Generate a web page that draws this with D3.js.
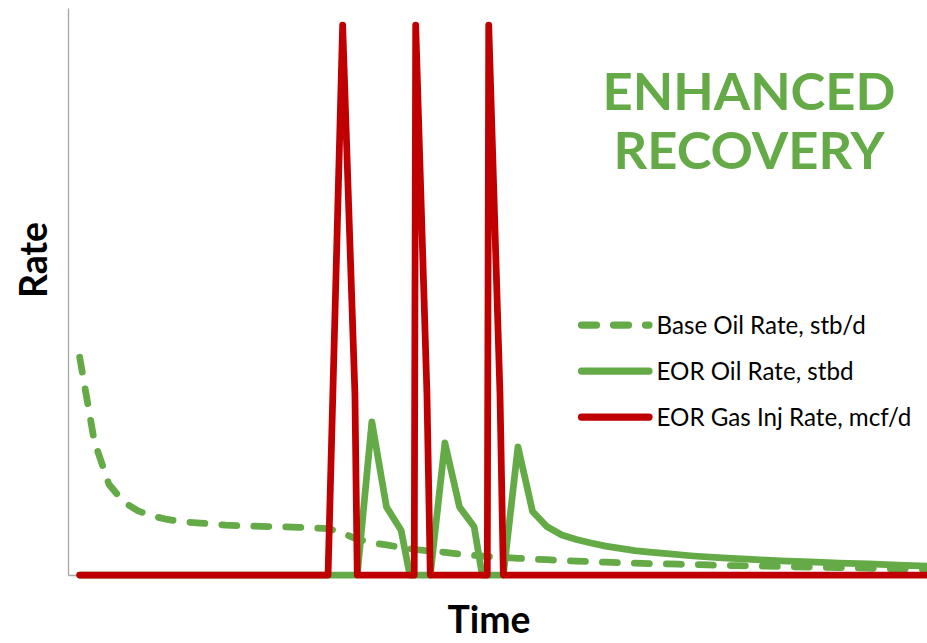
<!DOCTYPE html>
<html>
<head>
<meta charset="utf-8">
<script src="https://cdn.jsdelivr.net/npm/d3@7/dist/d3.min.js"></script>
<style>
  html, body { margin: 0; padding: 0; background: #ffffff; }
  svg { display: block; }
</style>
</head>
<body>
<svg id="chart" width="927" height="643"></svg>
<script>
// ---------------- DATA ----------------
const seriesNames = ["Base Oil Rate, stb/d", "EOR Oil Rate, stbd", "EOR Gas Inj Rate, mcf/d"];
const titleLines = ["ENHANCED", "RECOVERY"];
const xAxisTitle = "Time";
const yAxisTitle = "Rate";

// Base oil rate (dashed)
const baseTime = [0,1,2,3,4,5,6,7,8,9,10,11,12,13,14,15,16,17,18,19,20,21,22,23,24,25,26,27,28,29,30,
  31,32,33,34,35,36,37,38,39,40,41,42,43,44,45,46,47,48,49,50,51,52,53,54,55,56,57,58];
const baseRate = [38.4,23.6,16.0,12.9,11.3,10.4,9.8,9.4,9.2,9.0,8.8,8.7,8.6,8.55,8.5,8.4,8.3,8.2,7.4,6.3,5.7,
  5.3,4.85,4.5,4.2,4.0,3.7,3.45,3.25,3.1,2.95,2.8,2.7,2.55,2.45,2.35,2.25,2.15,2.1,2.0,1.95,
  1.9,1.85,1.8,1.7,1.65,1.6,1.55,1.5,1.45,1.4,1.35,1.3,1.25,1.2,1.15,1.1,1.08,1.05];

// EOR oil rate (solid green)
const eorTime = [0,19,20,21,22,22.6,24,25,26,27,27.55,29,30,31,32,33,34,35,36,37,38,39,40,42,44,46,48,50,52,54,56,58];
const eorRate = [0,0,27.0,12.0,7.9,0,0,23.3,12.0,8.5,0,0,22.6,11.2,8.5,7.05,6.25,5.65,5.1,4.7,4.3,4.05,3.8,
  3.35,3.0,2.75,2.5,2.3,2.1,1.95,1.75,1.55];

// EOR gas injection rate (red)
const gasTime = [0,17,18,18.84,19,22.9,23,23.77,24,27.9,28,28.77,29,58];
const gasRate = [0,0,97,32,0,0,97,32,0,0,97,32,0,0];

// ---------------- STYLE ----------------
const GREEN = "#64AB47";
const RED = "#C00000";
const AXIS = "#A6A6A6";
const FONT = "Lato, 'Open Sans', 'DejaVu Sans', sans-serif";
const LW = 6.75;

const svg = d3.select("#chart");

const x = d3.scaleLinear().domain([-0.8, 58]).range([68, 927]);
const y = d3.scaleLinear().domain([0, 100]).range([575, 8]);

// axes (no ticks)
svg.append("g").attr("transform", "translate(68,0)")
  .call(d3.axisLeft(y).tickValues([]).tickSizeOuter(0));
svg.append("g").attr("transform", "translate(0,575)")
  .call(d3.axisBottom(x).tickValues([]).tickSizeOuter(0));
svg.selectAll(".domain").attr("stroke", AXIS).attr("stroke-width", 1.3);

const zip = (ts, vs) => ts.map((t, i) => ({ t, v: vs[i] }));
const line = d3.line().x(d => x(d.t)).y(d => y(d.v));

svg.append("path").datum(zip(baseTime, baseRate))
  .attr("d", line).attr("fill", "none").attr("stroke", GREEN)
  .attr("stroke-width", LW).attr("stroke-dasharray", "15,17")
  .attr("stroke-linecap", "round").attr("stroke-linejoin", "round");

svg.append("path").datum(zip(eorTime, eorRate))
  .attr("d", line).attr("fill", "none").attr("stroke", GREEN)
  .attr("stroke-width", LW).attr("stroke-linecap", "round").attr("stroke-linejoin", "round");

svg.append("path").datum(zip(gasTime, gasRate))
  .attr("d", line).attr("fill", "none").attr("stroke", RED)
  .attr("stroke-width", LW).attr("stroke-linecap", "round").attr("stroke-linejoin", "round");

// text fitting helper
function fitSize(text, weight, targetW) {
  const t = svg.append("text").attr("font-family", FONT).attr("font-weight", weight)
    .attr("font-size", 100).text(text);
  const w = t.node().getComputedTextLength();
  t.remove();
  return 100 * targetW / w;
}

// legend
const legendY = [325, 371, 417];
const legSize = fitSize(seriesNames[2], "normal", 255);
const legend = svg.append("g");
seriesNames.forEach((name, i) => {
  const g = legend.append("g");
  const ln = g.append("line").attr("x1", 581.5).attr("x2", 649).attr("y1", legendY[i]).attr("y2", legendY[i])
    .attr("stroke", i === 2 ? RED : GREEN).attr("stroke-width", LW + 0.5)
    .attr("stroke-linecap", "round");
  if (i === 0) ln.attr("stroke-dasharray", "15,17");
  g.append("text").attr("x", 656.5).attr("y", legendY[i] + 8.5)
    .attr("font-family", FONT).attr("font-size", legSize).attr("fill", "#000")
    .text(name);
});

// title
const titleSize = fitSize(titleLines[0], "bold", 293);
[110, 169].forEach((by, i) => {
  svg.append("text").attr("x", 749).attr("y", by).attr("text-anchor", "middle")
    .attr("font-family", FONT).attr("font-weight", "bold").attr("font-size", titleSize)
    .attr("fill", GREEN).text(titleLines[i]);
});

// axis titles
const axSize = fitSize(xAxisTitle, "bold", 83);
svg.append("text").attr("x", 489).attr("y", 633).attr("text-anchor", "middle")
  .attr("font-family", FONT).attr("font-weight", "bold").attr("font-size", axSize)
  .attr("fill", "#000").text(xAxisTitle);
svg.append("text").attr("transform", "translate(47,260) rotate(-90)").attr("text-anchor", "middle")
  .attr("font-family", FONT).attr("font-weight", "bold").attr("font-size", axSize)
  .attr("fill", "#000").text(yAxisTitle);
</script>
</body>
</html>
